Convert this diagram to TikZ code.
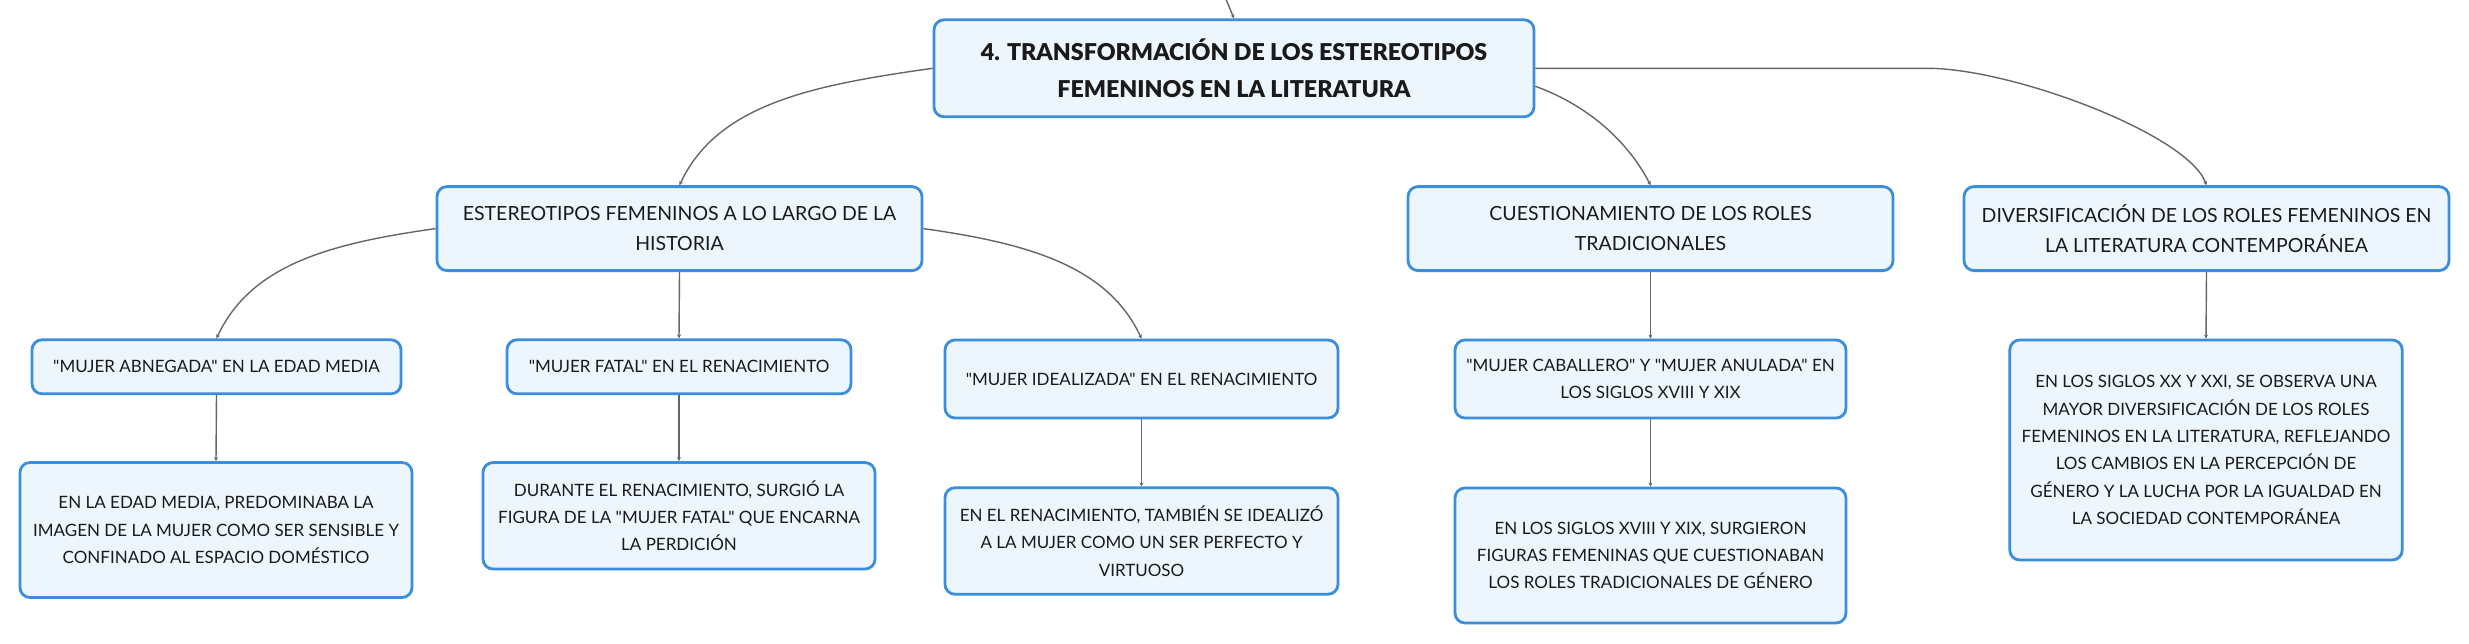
\documentclass[tikz,border=0pt]{standalone}
\usepackage{fontspec}
\setmainfont{Lato}[Ligatures=TeXOff]
\newfontfamily\heavyfont{Lato Black}[Ligatures=TeXOff]
\usetikzlibrary{arrows.meta, calc}

\definecolor{boxline}{HTML}{3A8EDB}
\definecolor{boxfill}{HTML}{EEF6FD}
\definecolor{linkgray}{HTML}{666666}
\definecolor{txt}{HTML}{1A1A1A}

\begin{document}
\begin{tikzpicture}[x=1pt, y=1pt,
    box/.style={draw=boxline, fill=boxfill, line width=2.8pt, rounded corners=10pt, align=center, text=txt, inner sep=0pt},
    roottitle/.style={box, font=\heavyfont\fontsize{23.2}{37}\selectfont},
    topic/.style={box, font=\fontsize{19.5}{30}\selectfont},
    note/.style={box, font=\fontsize{17}{27.3}\selectfont},
    link/.style={draw=linkgray, line width=1.4pt, -{Stealth[length=4pt,width=4pt]}}]
\path[fill=white, use as bounding box] (0,0) rectangle (2469,-643);

% central topic
\node[roottitle, minimum width=600pt, minimum height=97pt] (root) at (1234,-68.3) {4. TRANSFORMACIÓN DE LOS ESTEREOTIPOS\\FEMENINOS EN LA LITERATURA};
\coordinate (above) at (1225,3);

% main topics
\node[topic, minimum width=485pt, minimum height=84pt] (hist) at (679.5,-228.6) {ESTEREOTIPOS FEMENINOS A LO LARGO DE LA\\HISTORIA};
\node[topic, minimum width=485pt, minimum height=84pt] (cuest) at (1650.5,-228.6) {CUESTIONAMIENTO DE LOS ROLES\\TRADICIONALES};
\node[topic, minimum width=485pt, minimum height=84pt] (diver) at (2206.5,-228.6) {DIVERSIFICACIÓN DE LOS ROLES FEMENINOS EN\\LA LITERATURA CONTEMPORÁNEA};

% subtopics
\node[note, minimum width=369pt, minimum height=54pt] (abneg) at (216.5,-366.8) {"MUJER ABNEGADA" EN LA EDAD MEDIA};
\node[note, minimum width=344pt, minimum height=54pt] (fatal) at (679,-366.8) {"MUJER FATAL" EN EL RENACIMIENTO};
\node[note, minimum width=393pt, minimum height=78pt] (ideal) at (1141.5,-379) {"MUJER IDEALIZADA" EN EL RENACIMIENTO};
\node[note, minimum width=391pt, minimum height=78pt] (caball) at (1650.5,-379) {"MUJER CABALLERO" Y "MUJER ANULADA" EN\\LOS SIGLOS XVIII Y XIX};

% details
\node[note, minimum width=392pt, minimum height=135pt] (abnegtxt) at (216,-530) {EN LA EDAD MEDIA, PREDOMINABA LA\\IMAGEN DE LA MUJER COMO SER SENSIBLE Y\\CONFINADO AL ESPACIO DOMÉSTICO};
\node[note, minimum width=392pt, minimum height=106.5pt] (fataltxt) at (679,-515.8) {DURANTE EL RENACIMIENTO, SURGIÓ LA\\FIGURA DE LA "MUJER FATAL" QUE ENCARNA\\LA PERDICIÓN};
\node[note, minimum width=393pt, minimum height=106.5pt] (idealtxt) at (1141.5,-541) {EN EL RENACIMIENTO, TAMBIÉN SE IDEALIZÓ\\A LA MUJER COMO UN SER PERFECTO Y\\VIRTUOSO};
\node[note, minimum width=391pt, minimum height=135pt] (caballtxt) at (1650.5,-555.5) {EN LOS SIGLOS XVIII Y XIX, SURGIERON\\FIGURAS FEMENINAS QUE CUESTIONABAN\\LOS ROLES TRADICIONALES DE GÉNERO};
\node[note, minimum width=392.5pt, minimum height=220pt] (divertxt) at (2206,-450) {EN LOS SIGLOS XX Y XXI, SE OBSERVA UNA\\MAYOR DIVERSIFICACIÓN DE LOS ROLES\\FEMENINOS EN LA LITERATURA, REFLEJANDO\\LOS CAMBIOS EN LA PERCEPCIÓN DE\\GÉNERO Y LA LUCHA POR LA IGUALDAD EN\\LA SOCIEDAD CONTEMPORÁNEA};

% curved links
\draw[link] (above) -- (root.north);
\draw[link] (root.west) .. controls +(188:120) and +(65:90) .. (hist.north);
\draw[link] (hist.west) .. controls +(188:108) and +(65:81) .. (abneg.north);
\draw[link] (hist.east) .. controls +(-8:106) and +(115:80) .. (ideal.north);
\draw[link] ($(root.east)+(0,-18)$) .. controls +(-20:60) and +(117:45) .. (cuest.north);
\draw[link] (root.east) -- ++(392,0) .. controls +(0:85) and +(110:54) .. (diver.north);

% straight links
\foreach \a/\b in {hist/fatal, abneg/abnegtxt, fatal/fataltxt, ideal/idealtxt, cuest/caball, caball/caballtxt, diver/divertxt}
    \draw[link] (\a.south) -- (\b.north);
\end{tikzpicture}
\end{document}
